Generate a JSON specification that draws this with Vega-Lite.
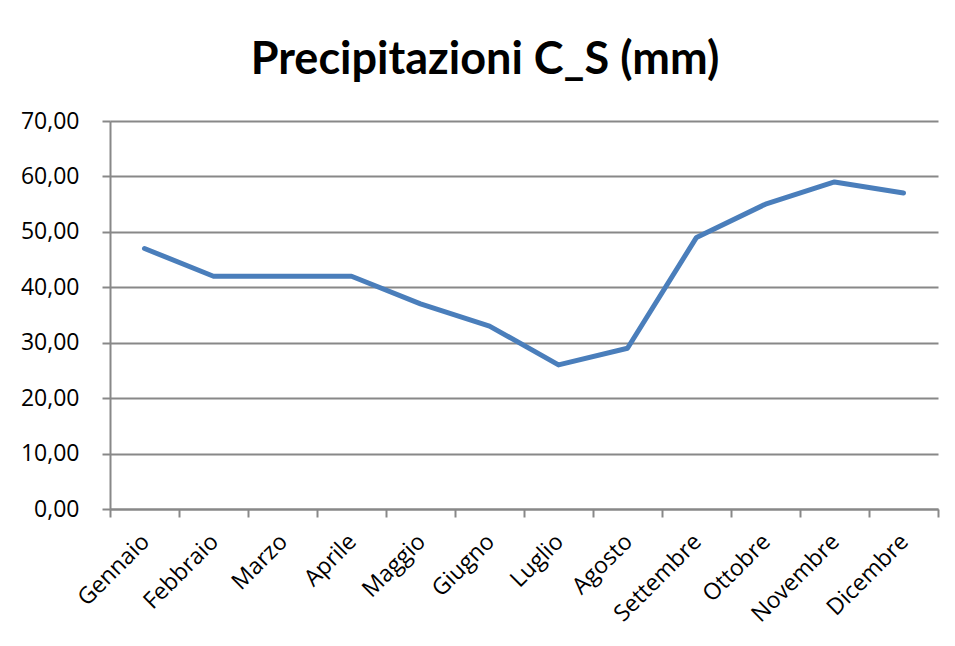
{
  "$schema": "https://vega.github.io/schema/vega-lite/v6.json",
  "width": 828,
  "height": 388,
  "autosize": "none",
  "padding": {"left": 110, "top": 121, "right": 17, "bottom": 137},
  "background": "white",
  "title": {
    "text": "Precipitazioni C_S (mm)",
    "font": "Lato",
    "fontSize": 45,
    "fontWeight": "bold",
    "color": "black",
    "anchor": "middle",
    "dx": -39,
    "offset": 27
  },
  "data": {
    "values": [
      {"mese": "Gennaio", "mm": 47},
      {"mese": "Febbraio", "mm": 42},
      {"mese": "Marzo", "mm": 42},
      {"mese": "Aprile", "mm": 42},
      {"mese": "Maggio", "mm": 37},
      {"mese": "Giugno", "mm": 33},
      {"mese": "Luglio", "mm": 26},
      {"mese": "Agosto", "mm": 29},
      {"mese": "Settembre", "mm": 49},
      {"mese": "Ottobre", "mm": 55},
      {"mese": "Novembre", "mm": 59},
      {"mese": "Dicembre", "mm": 57}
    ]
  },
  "mark": {"type": "line", "color": "#4A7EBB", "strokeWidth": 5, "strokeJoin": "round", "strokeCap": "round"},
  "encoding": {
    "x": {
      "field": "mese",
      "type": "ordinal",
      "sort": null,
      "bandPosition": 0.5,
      "scale": {"type": "band", "paddingInner": 0, "paddingOuter": 0},
      "axis": {
        "title": null,
        "grid": false,
        "tickBand": "extent",
        "domainColor": "#888888",
        "domainWidth": 2,
        "tickColor": "#888888",
        "tickWidth": 2,
        "tickSize": 8,
        "labelAngle": -45,
        "labelFont": "Open Sans",
        "labelFontSize": 23,
        "labelColor": "black",
        "labelPadding": 13,
        "labelOffset": -7
      }
    },
    "y": {
      "field": "mm",
      "type": "quantitative",
      "scale": {"domain": [0, 70], "nice": false},
      "axis": {
        "title": null,
        "values": [0, 10, 20, 30, 40, 50, 60, 70],
        "labelExpr": "replace(format(datum.value, '.2f'), '.', ',')",
        "grid": true,
        "gridColor": "#888888",
        "gridWidth": 2,
        "domainColor": "#888888",
        "domainWidth": 2,
        "tickColor": "#888888",
        "tickWidth": 2,
        "tickSize": 8,
        "labelFont": "Open Sans",
        "labelFontSize": 23,
        "labelColor": "black",
        "labelPadding": 23
      }
    }
  },
  "config": {"view": {"stroke": null}}
}
